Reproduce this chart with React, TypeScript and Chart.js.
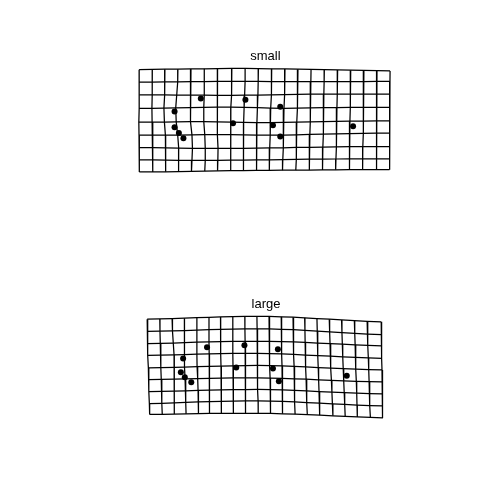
import React, { useEffect, useRef } from "react";
import { Chart, registerables } from "chart.js";

Chart.register(...registerables);

const PANEL_TITLES = ["small", "large"];

// Small panel: x of each vertical grid line (20 lines, 9 nodes top->bottom)
const SMALL_COL_X = [
  [137.3, 137.3, 137.5, 137.3, 137, 137.2, 137.5, 137.5, 137.5],
  [150.7, 150.7, 150.5, 150.3, 150.5, 151, 151.3, 151.3, 151],
  [163.5, 163.5, 163, 162.5, 163, 164, 164.5, 164.3, 164],
  [176.7, 176.5, 175.5, 174.5, 175, 176.5, 177.5, 177.5, 177.3],
  [190, 190, 189.5, 189, 189.5, 191, 191.5, 191, 190.5],
  [203.5, 203.5, 203.5, 203, 203, 204, 204.5, 204.5, 204],
  [217, 217, 217, 216.5, 216.5, 217, 217.5, 217.3, 217],
  [231.5, 231.5, 231, 230.5, 230.5, 230.5, 230.5, 230.3, 230],
  [245, 245, 244.5, 244, 243.5, 243.5, 243.5, 243.3, 243],
  [258.5, 258.3, 258, 257.5, 257, 257, 256.7, 256.5, 256.3],
  [272, 272, 271.5, 271, 270.5, 270.5, 270, 269.7, 269.5],
  [285.5, 285.3, 285, 284.5, 284, 284, 283.5, 283.3, 283],
  [298.7, 298.5, 298.2, 297.8, 297.5, 297.3, 297, 296.8, 296.5],
  [312, 311.8, 311.5, 311.2, 311, 310.8, 310.5, 310.3, 310],
  [325.5, 325.3, 325, 324.8, 324.5, 324.3, 324, 323.8, 323.5],
  [339, 338.8, 338.5, 338.3, 338, 337.8, 337.5, 337.3, 337],
  [352.3, 352.1, 351.9, 351.7, 351.5, 351.3, 351.1, 351, 350.8],
  [365.7, 365.5, 365.3, 365.1, 365, 364.8, 364.6, 364.5, 364.3],
  [379, 378.9, 378.8, 378.7, 378.6, 378.5, 378.4, 378.3, 378.2],
  [392.3, 392.2, 392.1, 392, 391.9, 391.8, 391.8, 391.7, 391.7],
];

// Small panel: y of each horizontal grid line (9 lines, 20 nodes left->right)
const SMALL_ROW_Y = [
  [66.7, 66.5, 66.3, 66.2, 66, 65.8, 65.6, 65.5, 65.5, 65.6, 65.8, 66, 66.2, 66.5, 66.8, 67, 67.3, 67.5, 67.8, 68],
  [79.3, 79.3, 79.2, 79.2, 79, 78.8, 78.6, 78.5, 78.5, 78.6, 78.8, 79, 79, 79, 79, 79, 78.9, 78.8, 78.7, 78.6],
  [92.3, 92.3, 92.4, 92.5, 92.6, 92.7, 92.8, 92.8, 92.7, 92.5, 92.3, 92, 91.8, 91.7, 91.6, 91.5, 91.5, 91.5, 91.5, 91.5],
  [106, 106, 105.8, 105.5, 105.3, 105, 104.8, 104.8, 105, 105.4, 105.8, 106, 105.8, 105.6, 105.4, 105.2, 105.1, 105, 105, 105],
  [120, 120, 120, 119.8, 119.6, 119.5, 119.7, 120, 120.3, 120.5, 120.5, 120.3, 120, 119.7, 119.4, 119.2, 119, 118.9, 118.8, 118.8],
  [133.3, 133.3, 133.3, 133.2, 133, 132.8, 132.7, 132.8, 133, 133.2, 133.3, 133.2, 133, 132.6, 132.2, 131.9, 131.6, 131.4, 131.3, 131.2],
  [146, 146, 146.2, 146.4, 146.6, 146.7, 146.7, 146.7, 146.6, 146.5, 146.3, 146.1, 145.8, 145.6, 145.4, 145.2, 145, 144.9, 144.8, 144.8],
  [158.3, 158.4, 158.6, 158.8, 158.9, 158.9, 158.8, 158.7, 158.6, 158.5, 158.3, 158.1, 157.9, 157.7, 157.6, 157.5, 157.4, 157.3, 157.3, 157.3],
  [170.7, 170.6, 170.5, 170.3, 170.1, 169.8, 169.5, 169.3, 169.2, 169.1, 169, 168.9, 168.8, 168.7, 168.6, 168.5, 168.4, 168.3, 168.3, 168.3],
];

const SMALL_PTS_X = [200, 245.3, 280.7, 173.3, 232.7, 273.3, 173.3, 177.7, 182.3, 280.7, 354.7];
const SMALL_PTS_Y = [96, 97.3, 104.3, 109.3, 121.3, 123.3, 125.3, 131, 136.3, 134.7, 124.3];

// Large panel
const LARGE_COL_X = [
  [145.5, 145.7, 146, 146.3, 146.7, 147, 147.3, 147.7, 148],
  [158.3, 158.5, 158.8, 159.2, 159.5, 159.8, 160.2, 160.5, 160.8],
  [170.8, 171.2, 172, 172.8, 173.3, 173.3, 173, 172.8, 172.8],
  [183.3, 183.5, 183.5, 183.3, 183.3, 184, 184.5, 184.8, 185],
  [196, 196, 196, 196, 196.2, 196.8, 197.2, 197.5, 197.7],
  [208.3, 208.3, 208.3, 208.5, 208.5, 208.7, 208.8, 209, 209],
  [220, 220, 220.2, 220.3, 220.5, 220.7, 220.8, 221, 221],
  [232.5, 232.5, 232.5, 232.5, 232.7, 232.8, 233, 233.2, 233.3],
  [244.7, 244.8, 245, 245, 245.2, 245.3, 245.5, 245.7, 245.8],
  [257, 257.2, 257.3, 257.5, 257.6, 257.8, 258, 258.2, 258.3],
  [269.3, 269.5, 269.7, 270, 270.2, 270.4, 270.6, 270.8, 271],
  [281.7, 281.9, 282.1, 282.3, 282.5, 282.7, 282.9, 283.1, 283.3],
  [293.7, 294, 294.2, 294.5, 294.8, 295, 295.3, 295.5, 295.8],
  [305.5, 305.8, 306, 306.3, 306.6, 307, 307.4, 307.8, 308.2],
  [318, 318.3, 318.6, 319, 319.3, 319.7, 320.1, 320.5, 321],
  [330.5, 330.9, 331.3, 331.7, 332.2, 332.7, 333.2, 333.7, 334.2],
  [343, 343.4, 343.8, 344.2, 344.7, 345.2, 345.7, 346.2, 346.7],
  [356, 356.4, 356.8, 357.2, 357.6, 358, 358.4, 358.7, 359],
  [369, 369.4, 369.8, 370.2, 370.6, 371, 371.4, 371.8, 372.3],
  [383.3, 383.5, 383.7, 383.9, 384.1, 384.3, 384.5, 384.7, 385],
];

const LARGE_ROW_Y = [
  [320.3, 320, 319.6, 319.2, 318.8, 318.4, 318, 317.7, 317.5, 317.4, 317.5, 317.8, 318.3, 318.9, 319.6, 320.3, 321, 321.7, 322.4, 323],
  [332.7, 332.5, 332.2, 331.8, 331.4, 331, 330.6, 330.3, 330.1, 330, 330.1, 330.5, 331, 331.7, 332.4, 333.2, 334, 334.7, 335.4, 336],
  [345, 344.8, 344.5, 344.1, 343.7, 343.3, 343, 342.8, 342.7, 342.7, 342.8, 343, 343.4, 343.9, 344.5, 345.1, 345.7, 346.3, 346.8, 347.3],
  [357, 356.8, 356.5, 356.2, 355.8, 355.5, 355.2, 355, 355, 355, 355.2, 355.6, 356.1, 356.7, 357.3, 357.9, 358.5, 359, 359.5, 360],
  [369.8, 369.6, 369.3, 369, 368.6, 368.2, 367.9, 367.6, 367.4, 367.3, 367.4, 367.7, 368.2, 368.8, 369.4, 370, 370.6, 371.1, 371.5, 371.8],
  [381.7, 381.5, 381.2, 380.9, 380.6, 380.3, 380.1, 380, 380, 380, 380.1, 380.4, 380.8, 381.3, 381.9, 382.5, 383, 383.4, 383.8, 384],
  [393.8, 393.6, 393.3, 393, 392.7, 392.4, 392.1, 391.9, 391.8, 391.7, 391.8, 392.1, 392.6, 393.2, 393.8, 394.4, 394.9, 395.4, 395.8, 396.2],
  [406, 405.7, 405.3, 404.8, 404.4, 404, 403.7, 403.5, 403.3, 403.3, 403.5, 403.9, 404.4, 405, 405.6, 406.3, 406.9, 407.5, 408, 408.4],
  [417, 416.9, 416.7, 416.5, 416.3, 416.1, 416, 415.9, 415.9, 416, 416.1, 416.4, 416.8, 417.3, 417.8, 418.4, 419, 419.6, 420.1, 420.6],
];

const LARGE_PTS_X = [206.3, 244.3, 278.3, 182, 236, 273.3, 179.7, 183.7, 190.3, 279.3, 348.3];
const LARGE_PTS_Y = [348.7, 346.7, 350.7, 360.3, 369.3, 370.3, 374.3, 379.3, 384.3, 383.3, 377.7];

type Pt = { x: number; y: number };

function lineSet(data: Pt[]) {
  return {
    type: "line",
    data,
    borderColor: "#000000",
    borderWidth: 1.25,
    pointRadius: 0,
    fill: false,
    tension: 0,
    showLine: true,
    clip: false,
  };
}

function gridDatasets(colX: number[][], rowY: number[][]) {
  const sets: any[] = [];
  const nRows = rowY.length;
  const nCols = colX.length;
  for (let r = 0; r < nRows; r++) {
    const data: Pt[] = [];
    for (let c = 0; c < nCols; c++) data.push({ x: colX[c][r], y: rowY[r][c] });
    sets.push(lineSet(data));
  }
  for (let c = 0; c < nCols; c++) {
    const data: Pt[] = [];
    for (let r = 0; r < nRows; r++) data.push({ x: colX[c][r], y: rowY[r][c] });
    sets.push(lineSet(data));
  }
  return sets;
}

function pointSet(xs: number[], ys: number[]) {
  return {
    type: "scatter",
    data: xs.map((x, i) => ({ x, y: ys[i] })),
    backgroundColor: "#000000",
    borderColor: "#000000",
    pointRadius: 3,
    borderWidth: 0,
    showLine: false,
    clip: false,
  };
}

const PANELS = [
  { title: PANEL_TITLES[0], colX: SMALL_COL_X, rowY: SMALL_ROW_Y },
  { title: PANEL_TITLES[1], colX: LARGE_COL_X, rowY: LARGE_ROW_Y },
];

const titlePlugin = {
  id: "panelTitles",
  afterDatasetsDraw(chart: any) {
    const { ctx, scales } = chart;
    ctx.save();
    ctx.fillStyle = "#000000";
    ctx.font = "13px 'Liberation Sans', Arial, sans-serif";
    ctx.textAlign = "center";
    ctx.textBaseline = "alphabetic";
    PANELS.forEach((p) => {
      const xs = p.colX.flat();
      const ys = p.rowY.flat();
      const cx = (Math.min(...xs) + Math.max(...xs)) / 2;
      const top = Math.min(...ys);
      ctx.fillText(p.title, scales.x.getPixelForValue(cx) + 1, scales.y.getPixelForValue(top) - 8.5);
    });
    ctx.restore();
  },
};

export default function App() {
  const ref = useRef<HTMLCanvasElement | null>(null);
  useEffect(() => {
    if (!ref.current) return;
    const datasets = [
      ...gridDatasets(SMALL_COL_X, SMALL_ROW_Y),
      ...gridDatasets(LARGE_COL_X, LARGE_ROW_Y),
      pointSet(SMALL_PTS_X, SMALL_PTS_Y),
      pointSet(LARGE_PTS_X, LARGE_PTS_Y),
    ];
    const chart = new Chart(ref.current, {
      type: "scatter",
      data: { datasets } as any,
      options: {
        responsive: false,
        animation: false,
        events: [],
        layout: { padding: 0 },
        plugins: { legend: { display: false }, tooltip: { enabled: false }, title: { display: false } },
        scales: {
          x: { type: "linear", min: 0, max: 504, display: false },
          y: { type: "linear", min: 0, max: 504, reverse: true, display: false },
        },
      },
      plugins: [titlePlugin],
    });
    return () => chart.destroy();
  }, []);
  return (
    <div style={{ position: "absolute", left: 0, top: 0, width: 504, height: 504, background: "#ffffff" }}>
      <canvas ref={ref} width={504} height={504} style={{ width: 504, height: 504, display: "block" }} />
    </div>
  );
}
